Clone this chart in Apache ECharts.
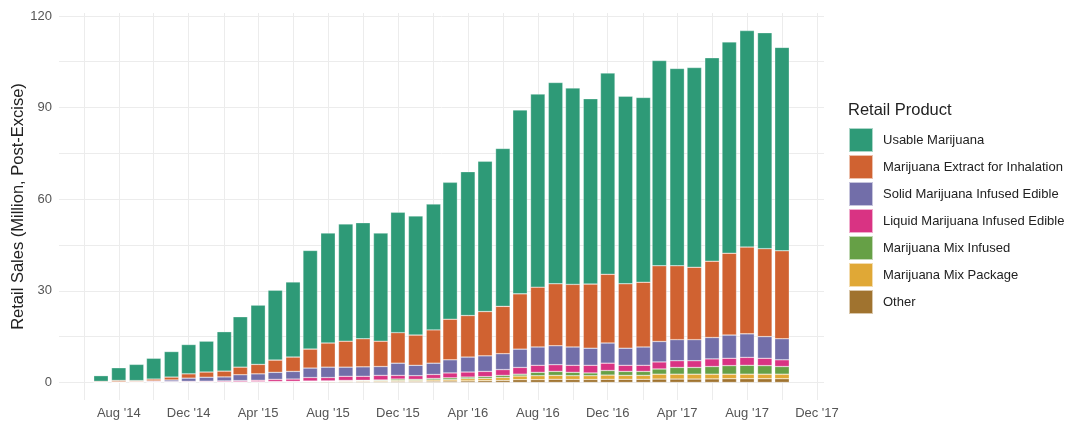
<!DOCTYPE html>
<html>
<head>
<meta charset="utf-8">
<title>Retail Sales by Product</title>
<script src="https://cdn.jsdelivr.net/npm/echarts@6/dist/echarts.min.js"></script>
<style>
  html, body { margin: 0; padding: 0; background: #fff; }
  #main { width: 1070px; height: 421px; }
</style>
</head>
<body>
<div id="main"></div>
<script>
// months Jul 2014 .. Oct 2017
var months = ['2014-07','2014-08','2014-09','2014-10','2014-11','2014-12',
  '2015-01','2015-02','2015-03','2015-04','2015-05','2015-06','2015-07','2015-08','2015-09','2015-10','2015-11','2015-12',
  '2016-01','2016-02','2016-03','2016-04','2016-05','2016-06','2016-07','2016-08','2016-09','2016-10','2016-11','2016-12',
  '2017-01','2017-02','2017-03','2017-04','2017-05','2017-06','2017-07','2017-08','2017-09','2017-10']

var usable = [1.85,4.15,5.3,6.8,8.35,9.6,10.1,12.9,16.5,19.4,22.9,24.6,32.3,36.0,38.4,38.0,35.4,39.4,39.0,41.2,44.8,47.1,49.2,51.7,60.2,63.2,65.9,64.3,60.7,65.9,61.4,60.5,67.2,64.6,65.4,66.6,69.2,70.9,70.7,66.6]
var extract = [0.25,0.45,0.3,0.6,0.95,1.4,1.7,1.9,2.5,3.1,4.0,4.7,6.2,7.9,8.5,9.2,8.3,10.0,9.9,10.9,13.3,13.6,14.5,15.5,18.1,19.6,20.3,20.5,21.0,22.5,21.1,21.2,24.8,24.2,23.7,25.0,26.8,28.4,28.8,28.8]
var solid = [0.05,0.1,0.15,0.2,0.5,1.05,1.3,1.3,1.9,2.1,2.3,2.5,3.1,3.4,3.0,3.1,2.9,4.0,3.4,3.7,4.3,4.9,5.1,5.2,6.0,6.0,6.2,6.0,5.6,6.6,5.6,6.0,6.7,6.9,6.9,7.0,7.6,7.7,7.1,6.9]
var liquid = [0.02,0.05,0.09,0.22,0.2,0.23,0.25,0.32,0.4,0.45,0.7,0.75,1.15,1.1,1.35,1.3,1.5,1.2,1.2,1.3,1.6,1.65,1.7,1.9,2.2,2.3,2.2,2.3,2.5,2.4,2.0,2.0,2.3,2.2,2.2,2.5,2.4,2.6,2.4,2.2]
var mixInfused = [0.01,0.02,0.02,0.03,0.04,0.04,0.05,0.06,0.06,0.09,0.1,0.1,0.15,0.15,0.2,0.2,0.25,0.45,0.35,0.5,0.6,0.55,0.6,0.7,0.6,1.1,1.3,1.1,0.9,1.5,1.3,1.3,1.7,2.2,2.2,2.5,2.8,2.9,2.8,2.5]
var mixPackage = [0.01,0.02,0.02,0.02,0.02,0.03,0.04,0.05,0.06,0.06,0.08,0.1,0.1,0.13,0.2,0.22,0.25,0.3,0.3,0.4,0.45,0.7,0.75,0.95,1.2,1.3,1.3,1.25,1.25,1.4,1.3,1.3,1.6,1.6,1.6,1.55,1.5,1.5,1.5,1.5]
var other = [0.01,0.01,0.02,0.03,0.04,0.05,0.06,0.07,0.08,0.1,0.12,0.15,0.2,0.22,0.25,0.28,0.3,0.35,0.35,0.4,0.45,0.5,0.55,0.65,0.9,0.9,1.0,0.95,0.95,1.0,1.0,1.0,1.1,1.1,1.1,1.15,1.2,1.2,1.2,1.2]

var xTickMonths = ['2014-08','2014-12','2015-04','2015-08','2015-12','2016-04','2016-08','2016-12','2017-04','2017-08','2017-12']
var xTickLabels = ["Aug '14", "Dec '14", "Apr '15", "Aug '15", "Dec '15", "Apr '16", "Aug '16", "Dec '16", "Apr '17", "Aug '17", "Dec '17"]
var yTickValues = [0, 30, 60, 90, 120]

// x positions in days since 1 Jan 2014 (value axis, like a date scale)
var DAY = 86400000
function toDays(m) {
  var p = m.split('-')
  return (Date.UTC(parseInt(p[0]), parseInt(p[1]) - 1, 1) - Date.UTC(2014, 0, 1)) / DAY
}

var monthDays = months.map(toDays)
var xTickDays = xTickMonths.map(toDays)

// grid lines every two months, Jun '14 .. Dec '17
var gridX = []
for (var gy = 2014; gy <= 2017; gy++) {
  for (var gm = 1; gm <= 12; gm += 2) {
    var d = (Date.UTC(gy, gm, 1) - Date.UTC(2014, 0, 1)) / DAY
    if (d >= toDays('2014-06') && d <= toDays('2017-12')) gridX.push(d)
  }
}
var gridY = []
for (var h = 0; h <= 120; h += 15) gridY.push(h)

// ggplot-style expanded range
var halfBar = 12.6
var span = monthDays[monthDays.length - 1] - monthDays[0] + 2 * halfBar
var xMin = monthDays[0] - halfBar - span * 0.05
var xMax = monthDays[monthDays.length - 1] + halfBar + span * 0.05

var products = [
  { name: 'Other', data: other, color: '#a0732f' },
  { name: 'Marijuana Mix Package', data: mixPackage, color: '#e0a836' },
  { name: 'Marijuana Mix Infused', data: mixInfused, color: '#66a046' },
  { name: 'Liquid Marijuana Infused Edible', data: liquid, color: '#d93383' },
  { name: 'Solid Marijuana Infused Edible', data: solid, color: '#726ea9' },
  { name: 'Marijuana Extract for Inhalation', data: extract, color: '#d06231' },
  { name: 'Usable Marijuana', data: usable, color: '#2e9a77' }
]

var myChart = echarts.init(document.getElementById('main'))

var fontFamily = '"Liberation Sans", Arial, sans-serif'

var option = {
  animation: false,
  textStyle: { fontFamily: fontFamily },
  title: {
    text: 'Retail Product',
    left: 848,
    top: 102,
    padding: 0,
    textStyle: { fontSize: 16.5, fontWeight: 'normal', color: '#222', fontFamily: fontFamily }
  },
  legend: {
    orient: 'vertical',
    left: 848,
    top: 127,
    padding: 0,
    itemWidth: 24,
    itemHeight: 24,
    itemGap: 1,
    icon: 'rect',
    data: products.map(function (p) { return p.name }).reverse(),
    textStyle: { fontSize: 13, color: '#222', padding: [0, 0, 0, 5], fontFamily: fontFamily }
  },
  grid: {
    left: 59,
    right: 246,
    top: 13,
    bottom: 21,
    containLabel: false,
    outerBoundsMode: 'none'
  },
  xAxis: {
    type: 'value',
    min: xMin,
    max: xMax,
    axisLine: { show: false },
    axisTick: { show: false, customValues: gridX },
    axisLabel: {
      customValues: xTickDays,
      color: '#555',
      fontSize: 13,
      margin: 7,
      formatter: function (v) {
        var i = xTickDays.indexOf(v)
        return i >= 0 ? xTickLabels[i] : ''
      }
    },
    splitLine: { show: true, lineStyle: { color: '#ececec', width: 1 } }
  },
  yAxis: {
    type: 'value',
    min: -5.76,
    max: 120.96,
    name: 'Retail Sales (Million, Post-Excise)',
    nameLocation: 'middle',
    nameGap: 32,
    nameMoveOverlap: false,
    nameTextStyle: { fontSize: 16.5, color: '#222' },
    axisLine: { show: false },
    axisTick: { show: false, customValues: gridY },
    axisLabel: { customValues: yTickValues, color: '#555', fontSize: 13, margin: 7 },
    splitLine: { show: true, lineStyle: { color: '#ececec', width: 1 } }
  },
  series: products.map(function (p) {
    return {
      name: p.name,
      type: 'bar',
      stack: 'total',
      barWidth: 14.5,
      itemStyle: { color: p.color, borderColor: 'rgba(255,255,255,0.6)', borderWidth: 0.5 },
      // value first so the stack runs on the y dimension
      encode: { x: 1, y: 0 },
      data: p.data.map(function (v, i) { return [v, monthDays[i]] })
    }
  })
}

myChart.setOption(option)
</script>
</body>
</html>
